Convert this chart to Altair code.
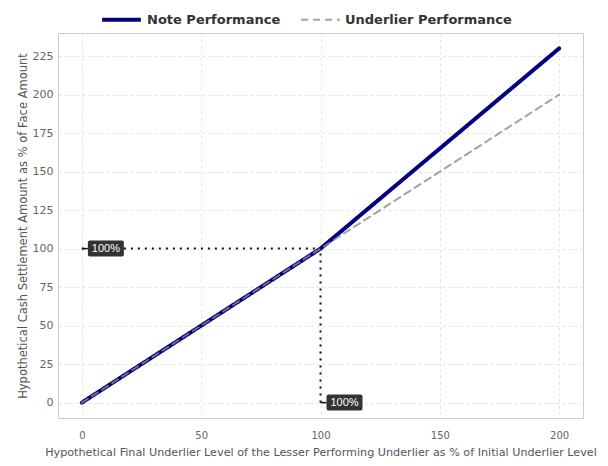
import altair as alt
import pandas as pd

# data
levels = [0, 100, 200]
note_perf = [0, 100, 230]
underlier_perf = [0, 100, 200]
series_names = ["Note Performance", "Underlier Performance"]

ref_level = 100
ref_payoff = 100
label_text = "100%"

rows = []
for x, v in zip(levels, note_perf):
    rows.append({"x": x, "y": v, "series": series_names[0]})
for x, v in zip(levels, underlier_perf):
    rows.append({"x": x, "y": v, "series": series_names[1]})
df = pd.DataFrame(rows)

hline = pd.DataFrame({"x": [0], "x2": [ref_level], "y": [ref_payoff]})
vline = pd.DataFrame({"x": [ref_level], "y": [0], "y2": [ref_payoff]})
labels = pd.DataFrame({"x": [0, ref_level], "y": [ref_payoff, 0], "t": [label_text, label_text]})

xscale = alt.Scale(domain=[-10, 210], nice=False, zero=False)
yscale = alt.Scale(domain=[-10, 240], nice=False, zero=False)

xaxis = alt.Axis(values=[0, 50, 100, 150, 200], titleFontSize=11.2, labelPadding=12, labelFontSize=10,
                 titlePadding=6,
                 title="Hypothetical Final Underlier Level of the Lesser Performing Underlier as % of Initial Underlier Level")
yaxis = alt.Axis(values=list(range(0, 226, 25)), titleFontSize=11.5, labelPadding=5,
                 title="Hypothetical Cash Settlement Amount as % of Face Amount")

lines = alt.Chart(df).mark_line(strokeCap="round").encode(
    x=alt.X("x:Q", scale=xscale, axis=xaxis),
    y=alt.Y("y:Q", scale=yscale, axis=yaxis),
    color=alt.Color("series:N", scale=alt.Scale(domain=series_names, range=["#000080", "#8c8c8c"]),
                    legend=alt.Legend(orient="none", legendX=42, legendY=-35, direction="horizontal",
                                      title=None, symbolType="stroke", symbolSize=1500,
                                      labelFontWeight="bold", labelFontSize=13, labelColor="#333333",
                                      labelLimit=0, columnPadding=16, labelOffset=4)),
    strokeDash=alt.StrokeDash("series:N", scale=alt.Scale(domain=series_names, range=[[1, 0], [7, 5]])),
    strokeWidth=alt.StrokeWidth("series:N", scale=alt.Scale(domain=series_names, range=[4, 2])),
    opacity=alt.Opacity("series:N", scale=alt.Scale(domain=series_names, range=[1, 0.8])),
    order=alt.Order("series:N"),
)

h = alt.Chart(hline).mark_rule(color="#111111", strokeDash=[2, 5], strokeWidth=2).encode(
    x="x:Q", x2="x2:Q", y="y:Q")
v = alt.Chart(vline).mark_rule(color="#111111", strokeDash=[2, 5], strokeWidth=2).encode(
    x="x:Q", y="y:Q", y2="y2:Q")

conn = alt.Chart(labels).mark_rule(color="#111111", strokeWidth=1.5, x2Offset=6).encode(
    x="x:Q", x2="x:Q", y="y:Q")
boxes = alt.Chart(labels).mark_rect(color="#333333", cornerRadius=2, xOffset=6, x2Offset=42,
                                     yOffset=-8, y2Offset=8).encode(
    x="x:Q", x2="x:Q", y="y:Q", y2="y:Q")
texts = alt.Chart(labels).mark_text(color="white", fontSize=11, dx=24, align="center", baseline="middle").encode(
    x="x:Q", y="y:Q", text="t:N")

chart = alt.layer(lines, h, v, conn, boxes, texts).properties(
    width=525, height=385,
    autosize=alt.AutoSizeParams(type="none"),
    padding={"left": 50, "top": 25, "right": 17, "bottom": 40}
).configure_view(
    stroke="#cccccc"
).configure_axis(
    gridDash=[3, 3], gridColor="#e3e3e3", domain=False, ticks=False,
    labelColor="#666666", labelFontSize=11, titleColor="#555555",
    titleFontWeight="normal", labelFont="DejaVu Sans", titleFont="DejaVu Sans"
).configure_legend(
    labelFont="DejaVu Sans"
)

chart.save("out.html", embed_options={"renderer": "svg", "actions": False})
